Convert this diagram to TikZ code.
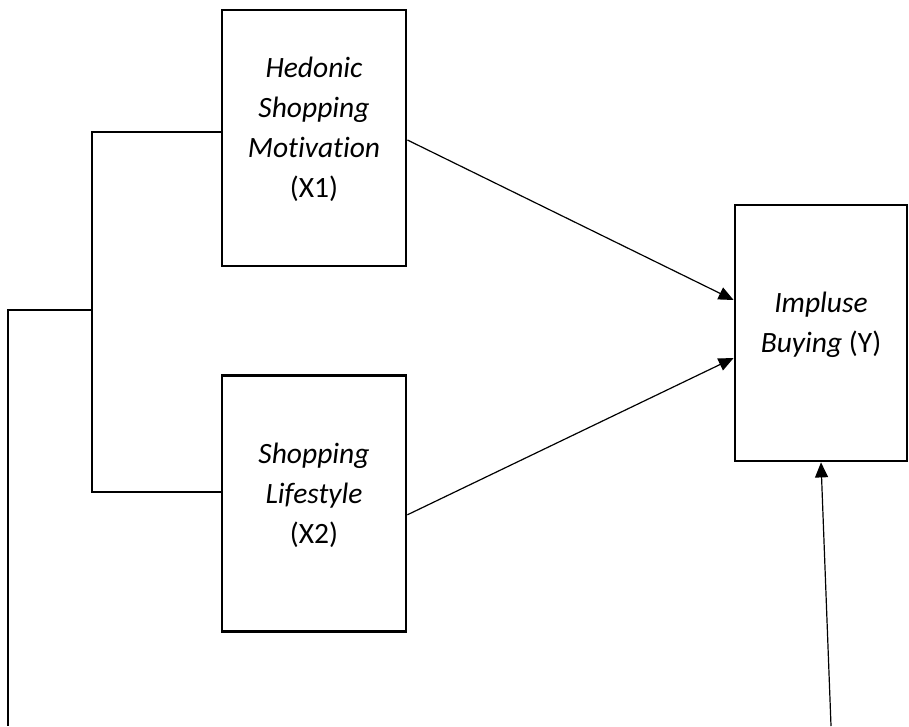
\documentclass[tikz,border=0pt]{standalone}
\usepackage{fontspec}
\setmainfont{Carlito}[Ligatures=NoCommon]
\usetikzlibrary{calc, arrows.meta, positioning}

\begin{document}
\begin{tikzpicture}[
          x=1pt, y=-1pt,
          var/.style={rectangle, draw, line width=2.8pt, minimum width=184pt, minimum height=256pt, text depth=21pt, align=center, font=\fontsize{29.5pt}{40pt}\selectfont},
          line/.style={line width=1.2pt},
          arrow/.style={-{Triangle[length=15pt,width=13pt]}, line width=1.2pt}
        ]
          \useasboundingbox (0,0) rectangle (909,726);

          \node[var] (hsm) at (314,138) {\textit{Hedonic}\\\textit{Shopping}\\\textit{Motivation}\\(X1)};
          \node[var, below=107pt of hsm] (sl) {\textit{Shopping}\\\textit{Lifestyle}\\(X2)};
          \node[var, minimum width=172pt] (ib) at (821,333) {\textit{Impluse}\\\textit{Buying} (Y)};

          % bracket on the left
          \coordinate (top) at (92,132);
          \coordinate (bot) at (92,492);
          \coordinate (mid) at (92,310);
          \coordinate (edge) at (8,310);
          \coordinate (low) at (8,726);
          \coordinate (foot) at (831,726);

          \draw[line] (hsm.west |- top) -- (top) -- (bot) -- (sl.west |- bot);
          \draw[line] (mid) -- (edge) -- (low);

          \draw[arrow] ($(hsm.east)+(0,2)$) -- ($(ib.west)+(0,-33)$);
          \draw[arrow] ($(sl.east)+(0,11)$) -- ($(ib.west)+(0,25)$);
          \draw[arrow] (foot) -- (ib.south);
        \end{tikzpicture}
\end{document}
